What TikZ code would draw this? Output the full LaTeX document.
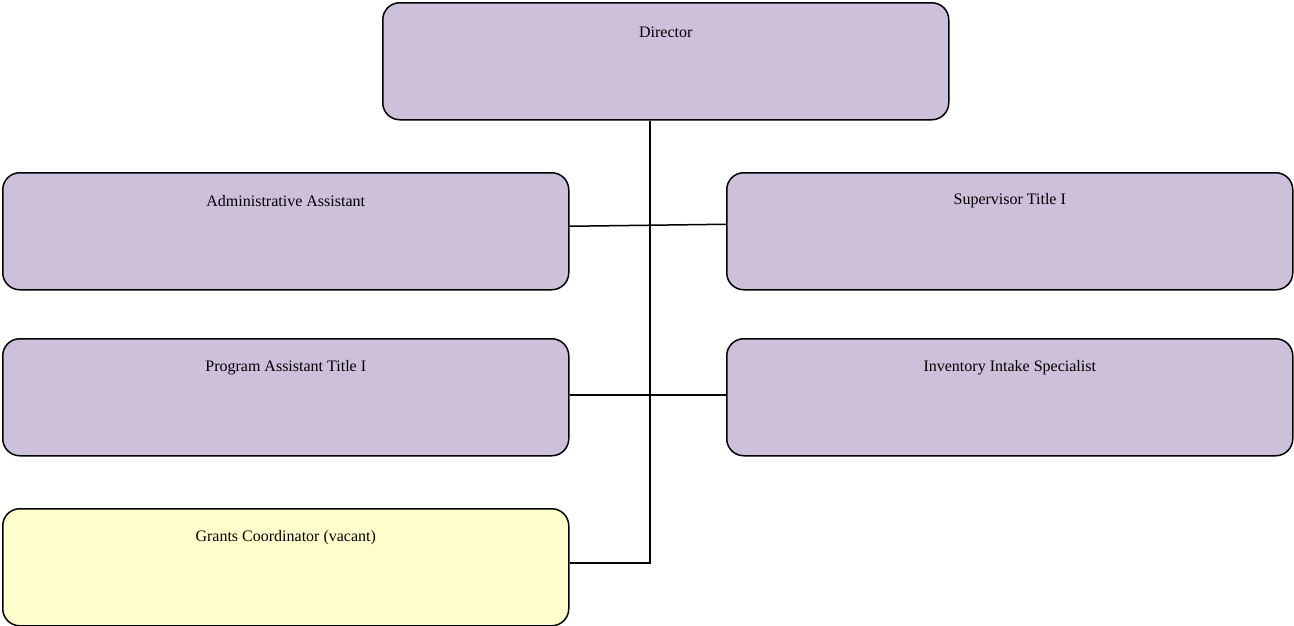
\documentclass[tikz,border=0pt]{standalone}
\usepackage{fontspec}
\setmainfont{Liberation Serif}
\definecolor{boxpurple}{HTML}{CCC0DA}
\definecolor{boxyellow}{HTML}{FFFFCC}
\begin{document}
\begin{tikzpicture}[x=1pt,y=-1pt,
  orgbox/.style={draw=black, line width=1.5pt, rounded corners=17pt, fill=boxpurple,
    minimum width=566pt, minimum height=117pt, anchor=north west, inner sep=0pt},
  vacantbox/.style={orgbox, fill=boxyellow},
  boxtitle/.style={font=\fontsize{16}{18}\selectfont, anchor=center},
  conn/.style={draw=black, line width=1.5pt}]
\useasboundingbox (0,0) rectangle (1294,625);
\node[orgbox] (dir) at (382,2) {};
\node[boxtitle] at ([yshift=-30pt]dir.north) {Director};
\node[orgbox] (adm) at (2,172) {};
\node[boxtitle] at ([yshift=-29pt]adm.north) {Administrative Assistant};
\node[orgbox] (sup) at (726,172) {};
\node[boxtitle] at ([yshift=-29pt]sup.north) {Supervisor Title I};
\node[orgbox] (prg) at (2,338) {};
\node[boxtitle] at ([yshift=-30pt]prg.north) {Program Assistant Title I};
\node[orgbox] (inv) at (726,338) {};
\node[boxtitle] at ([yshift=-30pt]inv.north) {Inventory Intake Specialist};
\node[vacantbox] (grn) at (2,508) {};
\node[boxtitle] at ([yshift=-30pt]grn.north) {Grants Coordinator (vacant)};
\coordinate (bend) at (650,563);
\draw[conn] (dir.south -| bend) -- (bend) -- (grn.east |- bend);
\draw[conn] ([yshift=5pt]adm.east) -- ([yshift=7pt]sup.west);
\draw[conn] ([yshift=2.5pt]prg.east) -- ([yshift=2.5pt]inv.west);
\end{tikzpicture}
\end{document}
